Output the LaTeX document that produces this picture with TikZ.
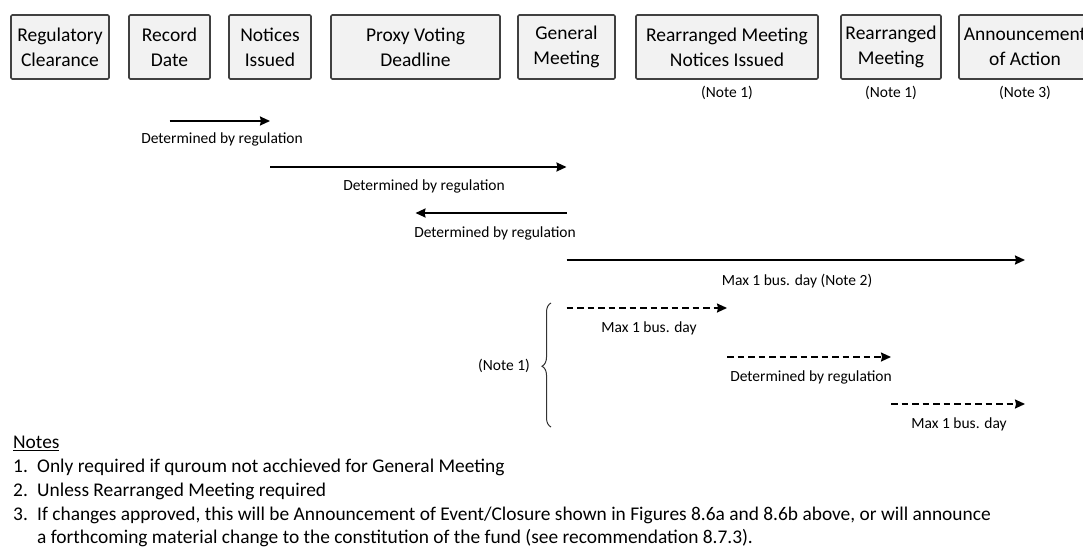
\documentclass[tikz,border=0pt]{standalone}
\usepackage{fontspec}
\setmainfont{Carlito}
\usetikzlibrary{arrows.meta,decorations.pathreplacing}
\begin{document}
\begin{tikzpicture}[x=1pt,y=-1pt,
  stagebox/.style={draw=black!75, line width=1.6pt, fill=black!5, rounded corners=1.2pt,
    minimum height=64pt, inner sep=0pt, align=center, text=black,
    font=\fontsize{19.5}{25}\selectfont},
  tag/.style={font=\fontsize{15.5}{18}\selectfont, text=black, inner sep=0pt},
  span/.style={line width=1.8pt, -{Stealth[length=10pt,width=9pt,inset=1pt]}},
  dspan/.style={line width=1.6pt, dash pattern=on 6.5pt off 4pt, -{Stealth[length=10pt,width=9pt,inset=1pt]}},
  notetext/.style={font=\fontsize{19.4}{24}\selectfont, text=black, inner sep=0pt, anchor=west}]
\useasboundingbox (0,0) rectangle (1083,549);
\clip (0,0) rectangle (1083,549);

% timeline stages
\node[stagebox, minimum width=98pt]  (RC) at (60,47)    {Regulatory\\Clearance};
\node[stagebox, minimum width=81pt]  (RD) at (169.5,47) {Record\\Date};
\node[stagebox, minimum width=82pt]  (NI) at (270,47)   {Notices\\Issued};
\node[stagebox, minimum width=169pt] (PV) at (415.5,47) {Proxy Voting\\Deadline};
\node[stagebox, minimum width=97pt]  (GM) at (566.5,47) {General\\Meeting};
\node[stagebox, minimum width=182pt] (RN) at (727,47)   {Rearranged Meeting\\Notices Issued};
\node[stagebox, minimum width=100pt] (RM) at (891,47)   {Rearranged\\Meeting};
\node[stagebox, minimum width=132pt] (AA) at (1025,47)  {Announcement\\of Action};

\node[tag] (nRN) at (727,93)  {(Note 1)};
\node[tag] (nRM) at (891,93)  {(Note 1)};
\node[tag] (nAA) at (1025,93) {(Note 3)};

% intervals between stages
\draw[span] (RD.center |- 0,121) -- (NI.center |- 0,121);
\node[tag] (l1) at (222,139) {Determined by regulation};
\draw[span] (NI.center |- 0,167) -- (GM.center |- 0,167);
\node[tag] (l2) at (424,186) {Determined by regulation};
\draw[span] (GM.center |- 0,213) -- (PV.center |- 0,213);
\node[tag] (l3) at (495,233) {Determined by regulation};
\draw[span] (GM.center |- 0,260) -- (AA.center |- 0,260);
\node[tag] (l4) at (797,281) {Max 1 bus. day (Note 2)};

% optional path when a rearranged meeting is needed
\draw[dspan] (GM.center |- 0,308) -- (RN.center |- 0,308);
\node[tag] (l5) at (649,328) {Max 1 bus. day};
\draw[dspan] (RN.center |- 0,357) -- (RM.center |- 0,357);
\node[tag] (l6) at (811,377) {Determined by regulation};
\draw[dspan] (RM.center |- 0,404) -- (AA.center |- 0,404);
\node[tag] (l7) at (959,424) {Max 1 bus. day};

\coordinate (bt) at (551,303);
\coordinate (bb) at (551,427);
\draw[line width=1pt, black!80, decorate, decoration={brace, amplitude=9pt, aspect=0.49}] (bb) -- (bt);
\node[tag, anchor=east] (nb) at (530,366) {(Note 1)};

% notes
\node[notetext] (nh) at (13,443) {\underline{Notes}};
\node[notetext] (n1) at (13,467) {\makebox[24pt][l]{1.}Only required if quroum not acchieved for General Meeting};
\node[notetext] (n2) at (13,491) {\makebox[24pt][l]{2.}Unless Rearranged Meeting required};
\node[notetext] (n3) at (13,515) {\makebox[24pt][l]{3.}If changes approved, this will be Announcement of Event/Closure shown in Figures 8.6a and 8.6b above, or will announce};
\node[notetext] (n3b) at (37,538) {a forthcoming material change to the constitution of the fund (see recommendation 8.7.3).};
\end{tikzpicture}
\end{document}
